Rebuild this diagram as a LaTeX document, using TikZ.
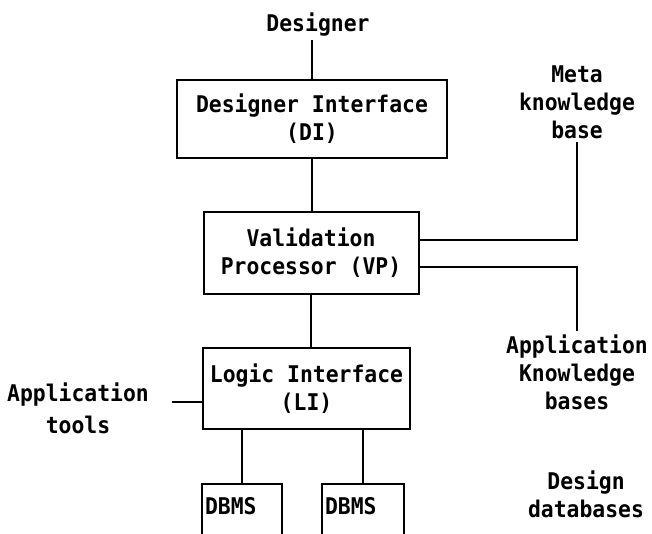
\documentclass[tikz,border=0pt]{standalone}
\usepackage{fontspec}
\setmainfont{DejaVu Sans Mono}[FakeStretch=0.93]
\begin{document}
\begin{tikzpicture}[x=1pt,y=-1pt,
  every node/.style={font=\fontsize{23}{28}\selectfont\bfseries},
  wire/.style={line width=2pt},
  block/.style={draw, line width=2pt, inner sep=0pt, align=center},
  lbl/.style={align=center, inner sep=3pt}]
\useasboundingbox (0,0) rectangle (652,534);

% processing blocks
\node[block, minimum width=270pt, minimum height=78pt] (di) at (312,119) {Designer Interface\\(DI)};
\node[block, minimum width=215pt, minimum height=82pt] (vp) at (311,253) {Validation\\Processor (VP)};
\node[block, minimum width=207pt, minimum height=81pt] (li) at (306.5,388.5) {Logic Interface\\(LI)};

% DBMS boxes run off the lower edge
\node[block, anchor=north, minimum width=80pt, text width=74pt, align=left,
      inner xsep=3pt, inner ysep=13pt, text height=17pt, text depth=40pt] (db1) at (242,483) {DBMS};
\node[block, anchor=north, minimum width=82pt, text width=76pt, align=left,
      inner xsep=3pt, inner ysep=13pt, text height=17pt, text depth=40pt] (db2) at (363,483) {DBMS};

% outer labels
\node[lbl, anchor=base] (designer) at (318,32) {Designer};
\node[lbl] (meta) at (577,102) {Meta\\knowledge\\base};
\node[lbl] (apps) at (577,372) {Application\\Knowledge\\bases};
\node[lbl] (design) at (586,494) {Design\\databases};
\node[lbl] (tools) at (78,408) {Application\\[4pt]tools};
\coordinate (toolsend) at (172,402);

% connections
\draw[wire] (designer.south -| di.north) -- (di.north);
\draw[wire] (di.south) -- (di.south |- vp.north);
\draw[wire] (vp.south) -- (vp.south |- li.north);
\draw[wire] ([yshift=13pt]vp.east) -| (meta.south);
\draw[wire] ([yshift=-14pt]vp.east) -| (apps.north);
\draw[wire] ([yshift=-13.5pt]li.west) -- (toolsend);
\draw[wire] (db1.north) -- (db1.north |- li.south);
\draw[wire] (db2.north) -- (db2.north |- li.south);
\end{tikzpicture}
\end{document}
